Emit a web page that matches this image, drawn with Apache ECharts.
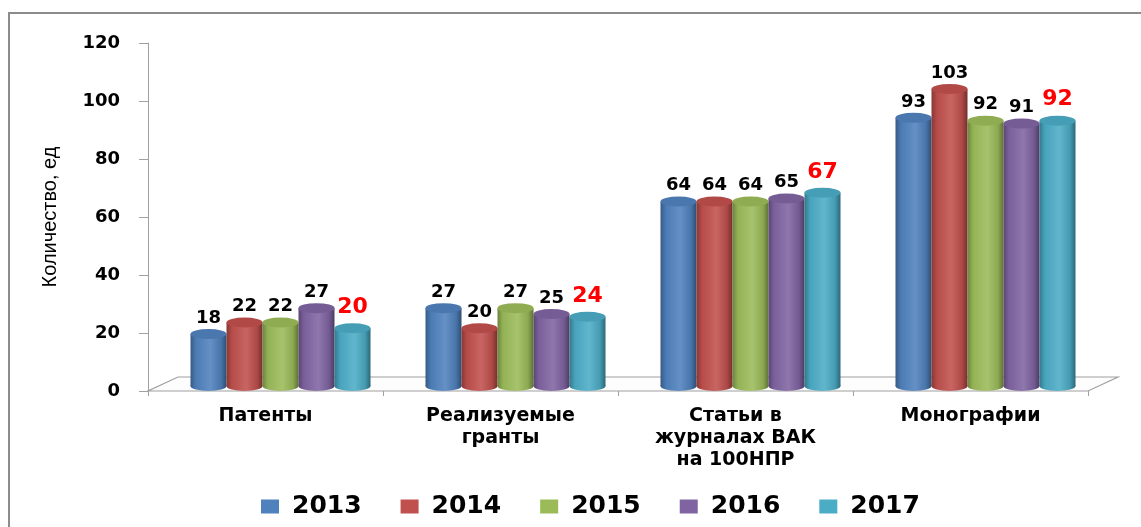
<!DOCTYPE html>
<html>
<head>
<meta charset="utf-8">
<script src="https://cdn.jsdelivr.net/npm/echarts@6/dist/echarts.min.js"></script>
<style>
  html, body { margin: 0; padding: 0; background: #fff; }
  #frame { position: absolute; left: 8px; top: 12px; width: 1200px; height: 600px;
           border-top: 2px solid #8c8c8c; border-left: 2px solid #8c8c8c; }
  #chart { position: absolute; left: 0; top: 0; width: 1141px; height: 527px; }
</style>
</head>
<body>
<div id="frame"></div>
<div id="chart"></div>
<script>
const categories = ['Патенты', 'Реализуемые\nгранты', 'Статьи в\nжурналах ВАК\nна 100НПР', 'Монографии']
const years = ['2013', '2014', '2015', '2016', '2017']
const v2013 = [18, 27, 64, 93]
const v2014 = [22, 20, 64, 103]
const v2015 = [22, 27, 64, 92]
const v2016 = [27, 25, 65, 91]
const v2017 = [20, 24, 67, 92]
const yTicks = [0, 20, 40, 60, 80, 100, 120]

const values = [v2013, v2014, v2015, v2016, v2017]
const colors = ['#4f81bd', '#c0504d', '#9bbb59', '#8064a2', '#4bacc6']
const barW = 36

// затемнение / осветление цвета
function shade(hex, f) {
  const n = parseInt(hex.slice(1), 16)
  let r = (n >> 16) & 255, g = (n >> 8) & 255, b = n & 255
  if (f < 0) { r *= 1 + f; g *= 1 + f; b *= 1 + f } else {
    r += (255 - r) * f; g += (255 - g) * f; b += (255 - b) * f
  }
  return 'rgb(' + Math.round(r) + ',' + Math.round(g) + ',' + Math.round(b) + ')'
}
// цилиндр: тёмные края, светлая середина
function cyl(hex) {
  return {
    type: 'linear', x: 0, y: 0, x2: 1, y2: 0,
    colorStops: [
      { offset: 0, color: shade(hex, -0.3) },
      { offset: 0.15, color: shade(hex, -0.05) },
      { offset: 0.55, color: shade(hex, 0.12) },
      { offset: 0.85, color: shade(hex, -0.1) },
      { offset: 1, color: shade(hex, -0.4) }
    ]
  }
}

const series = []
years.forEach((y, i) => {
  const last = i === years.length - 1
  series.push({
    name: y,
    type: 'bar',
    xAxisIndex: 1,
    yAxisIndex: 1,
    data: values[i],
    barWidth: barW,
    barGap: '0%',
    itemStyle: { color: cyl(colors[i]) },
    label: {
      show: true,
      position: 'top',
      distance: last ? 10 : 7,
      color: last ? '#ff0000' : '#000',
      fontFamily: 'DejaVu Sans',
      fontWeight: 'bold',
      fontSize: last ? 22 : 18
    },
    z: 2
  })
  const off = ((i - 2) * 100) + '%'
  // верхняя крышка
  series.push({
    name: y,
    type: 'pictorialBar',
    xAxisIndex: 1,
    yAxisIndex: 1,
    data: values[i],
    symbol: 'circle',
    symbolSize: [barW, 10],
    symbolPosition: 'end',
    symbolOffset: [off, '-50%'],
    itemStyle: { color: shade(colors[i], -0.08) },
    silent: true,
    z: 3
  })
  // нижнее закругление
  series.push({
    name: y,
    type: 'pictorialBar',
    xAxisIndex: 1,
    yAxisIndex: 1,
    data: values[i],
    symbol: 'circle',
    symbolSize: [barW, 10],
    symbolPosition: 'start',
    symbolOffset: [off, '50%'],
    itemStyle: { color: cyl(colors[i]) },
    silent: true,
    z: 2
  })
})

const myChart = echarts.init(document.getElementById('chart'))
const option = {
  animation: false,
  color: colors,
  grid: [
    { left: 148, right: 53, top: 43, bottom: 136 },
    { left: 163, right: 38, top: 40, bottom: 141 }
  ],
  legend: {
    data: years.map((y, i) => ({ name: y, itemStyle: { color: colors[i] } })),
    bottom: 3,
    left: 256,
    icon: 'rect',
    itemWidth: 18,
    itemHeight: 14,
    itemGap: 39,
    textStyle: {
      fontFamily: 'DejaVu Sans',
      fontWeight: 'bold',
      fontSize: 25,
      color: '#000',
      padding: [0, 0, 0, 8]
    }
  },
  xAxis: [
    {
      type: 'category',
      gridIndex: 0,
      data: categories,
      axisLine: { show: false },
      axisTick: { show: true, inside: false, length: 5, lineStyle: { color: '#a0a0a0' } },
      axisLabel: {
        margin: 14,
        color: '#000',
        fontFamily: 'DejaVu Sans',
        fontWeight: 'bold',
        fontSize: 19,
        lineHeight: 22
      }
    },
    {
      type: 'category',
      gridIndex: 1,
      data: categories,
      show: false
    }
  ],
  yAxis: [
    {
      type: 'value',
      gridIndex: 0,
      min: 0,
      max: 120,
      interval: 20,
      name: 'Количество, ед',
      nameLocation: 'middle',
      nameGap: 88,
      nameRotate: 90,
      nameTextStyle: {
        fontFamily: 'Liberation Sans',
        fontSize: 20,
        color: '#000'
      },
      axisLine: { show: true, lineStyle: { color: '#a0a0a0' } },
      axisTick: { show: true, length: 9, lineStyle: { color: '#a0a0a0' } },
      splitLine: { show: false },
      axisLabel: {
        margin: 28,
        color: '#000',
        fontFamily: 'DejaVu Sans',
        fontWeight: 'bold',
        fontSize: 18,
        formatter: v => (yTicks.includes(v) ? String(v) : '')
      }
    },
    {
      type: 'value',
      gridIndex: 1,
      min: 0,
      max: 120,
      interval: 20,
      show: false
    }
  ],
  series: series
}

option && myChart.setOption(option)

// пол (3D-плоскость под столбцами)
const rect = myChart.getModel().getComponent('grid', 0).coordinateSystem.getRect()
const x0 = rect.x, x1 = rect.x + rect.width, yb = rect.y + rect.height
myChart.setOption({
  graphic: [{
    type: 'polygon',
    z: 0,
    silent: true,
    shape: { points: [[x0, yb], [x1, yb], [x1 + 30, yb - 14], [x0 + 30, yb - 14]] },
    style: { fill: '#fdfdfd', stroke: '#a0a0a0', lineWidth: 1.2 }
  }]
})
</script>
</body>
</html>
